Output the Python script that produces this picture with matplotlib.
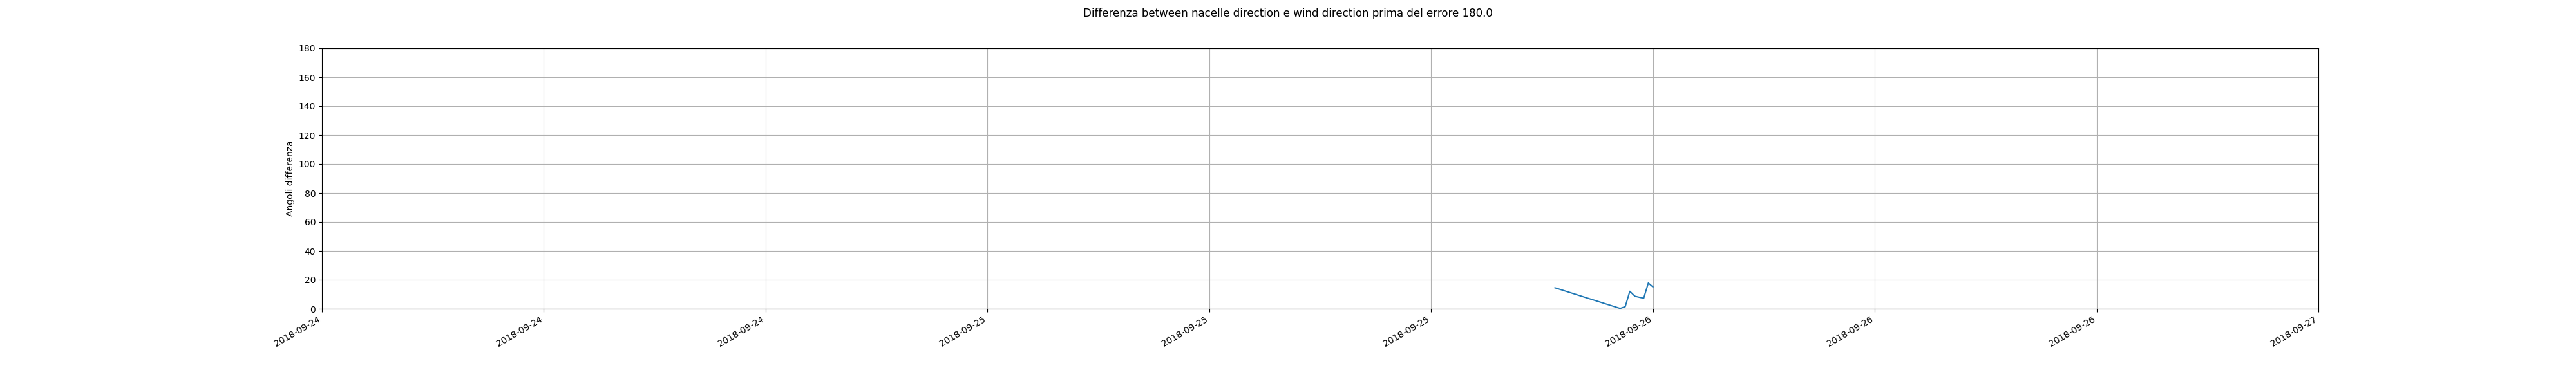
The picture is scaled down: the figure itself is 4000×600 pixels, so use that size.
import matplotlib
matplotlib.use("Agg")
import matplotlib.pyplot as plt
import matplotlib.dates as mdates
import pandas as pd

times = ["2018-09-25 20:28", "2018-09-25 22:49", "2018-09-25 23:59", "2018-09-26 00:00",
         "2018-09-26 00:01", "2018-09-26 00:02", "2018-09-26 00:03", "2018-09-26 00:04"]
times = pd.to_datetime(["2018-09-25 20:28", "2018-09-25 22:49", "2018-09-25 23:00",
                        "2018-09-25 23:10", "2018-09-25 23:21", "2018-09-25 23:40",
                        "2018-09-25 23:50", "2018-09-26 00:00"])
values = [14.5, 0.3, 1.5, 12.1, 8.7, 7.3, 17.8, 15.1]

fig, ax = plt.subplots(figsize=(40, 6), dpi=100)
fig.subplots_adjust(left=0.125, right=0.9, top=0.875, bottom=0.2)
ax.plot(times, values)
ax.set_xlim(pd.Timestamp("2018-09-24"), pd.Timestamp("2018-09-27"))
ax.set_ylim(0, 180)
ax.set_yticks(range(0, 181, 20))
ax.xaxis.set_major_locator(mdates.HourLocator(byhour=[0, 8, 16]))
ax.xaxis.set_major_formatter(mdates.DateFormatter("%Y-%m-%d"))
ax.grid(True)
ax.set_ylabel("Angoli differenza")
fig.suptitle("Differenza between nacelle direction e wind direction prima del errore 180.0")
fig.autofmt_xdate()
fig.savefig("out.png")
